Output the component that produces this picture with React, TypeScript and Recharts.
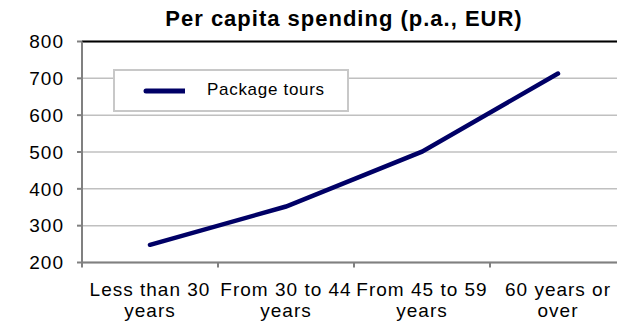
import { CartesianGrid, Legend, Line, LineChart, ReferenceLine, XAxis, YAxis } from "recharts";

const ageGroups = ["Less than 30\nyears", "From 30 to 44\nyears", "From 45 to 59\nyears", "60 years or\nover"];
const packageTours = [248, 352, 501, 713];
const yTicks = [200, 300, 400, 500, 600, 700, 800];

const data = ageGroups.map((group, i) => ({ group, packageTours: packageTours[i] }));

const FONT = '"Liberation Sans", Arial, sans-serif';
const NAVY = "#000066";
const HALF_BAND = 68;

function AgeTick({ x, y, payload }: { x?: number; y?: number; payload?: { value: string } }) {
  const lines = String(payload?.value ?? "").split("\n");
  const cx = Number(x);
  const cy = Number(y);
  return (
    <g>
      <line x1={cx - HALF_BAND} x2={cx - HALF_BAND} y1={cy} y2={cy + 5} stroke="#808080" strokeWidth={2} />
      <text textAnchor="middle" fontSize={19} letterSpacing={1} fill="#000" fontFamily={FONT}>
        {lines.map((l, i) => (
          <tspan key={i} x={cx} y={cy + 33.5 + i * 21}>
            {l}
          </tspan>
        ))}
      </text>
    </g>
  );
}

function LegendBox() {
  return (
    <div
      style={{
        width: 232,
        height: 39,
        border: "2px solid #c8c8c8",
        background: "#fff",
        position: "relative",
        fontFamily: FONT,
      }}
    >
      <svg width={70} height={39} style={{ position: "absolute", left: 0, top: 0 }}>
        <line x1={31} x2={88} y1={20} y2={20} stroke={NAVY} strokeWidth={5} strokeLinecap="round" />
      </svg>
      <span
        style={{
          position: "absolute",
          left: 92,
          top: 10,
          fontSize: 17,
          letterSpacing: 0.7,
          lineHeight: "17px",
          color: "#000",
          whiteSpace: "nowrap",
        }}
      >
        Package tours
      </span>
    </div>
  );
}

export default function App() {
  return (
    <div
      style={{
        position: "absolute",
        left: 0,
        top: 0,
        width: 617,
        height: 326,
        overflow: "hidden",
        background: "#fff",
        fontFamily: FONT,
      }}
    >
      <div
        style={{
          position: "absolute",
          left: 344,
          top: 8,
          transform: "translateX(-50%)",
          fontSize: 22,
          fontWeight: "bold",
          letterSpacing: 1,
          lineHeight: "22px",
          whiteSpace: "nowrap",
          color: "#000",
        }}
      >
        Per capita spending (p.a., EUR)
      </div>
      <LineChart width={640} height={326} data={data} margin={{ top: 41.5, right: 14, bottom: 0, left: 0 }}>
        <CartesianGrid vertical={false} stroke="#c0c0c0" strokeWidth={1.5} />
        <XAxis
          dataKey="group"
          height={63.5}
          padding={{ left: HALF_BAND, right: HALF_BAND }}
          axisLine={{ stroke: "#808080", strokeWidth: 2 }}
          tickLine={false}
          tickSize={0}
          tickMargin={0}
          interval={0}
          tick={<AgeTick />}
        />
        <YAxis
          width={82}
          domain={[200, 800]}
          ticks={yTicks}
          interval={0}
          axisLine={{ stroke: "#808080", strokeWidth: 2 }}
          tickLine={{ stroke: "#808080", strokeWidth: 2 }}
          tickSize={5}
          tickMargin={13}
          tick={{ fontSize: 19, fill: "#000", fontFamily: FONT, letterSpacing: 1 }}
        />
        <ReferenceLine y={800} stroke="#000" strokeWidth={2} />
        <Legend
          verticalAlign="middle"
          layout="horizontal"
          content={<LegendBox />}
          wrapperStyle={{ position: "absolute", left: 113, top: 69, width: 236, height: 43 }}
        />
        <Line
          isAnimationActive={false}
          type="linear"
          dataKey="packageTours"
          name="Package tours"
          stroke={NAVY}
          strokeWidth={4.5}
          strokeLinecap="round"
          dot={false}
          activeDot={false}
        />
      </LineChart>
    </div>
  );
}
